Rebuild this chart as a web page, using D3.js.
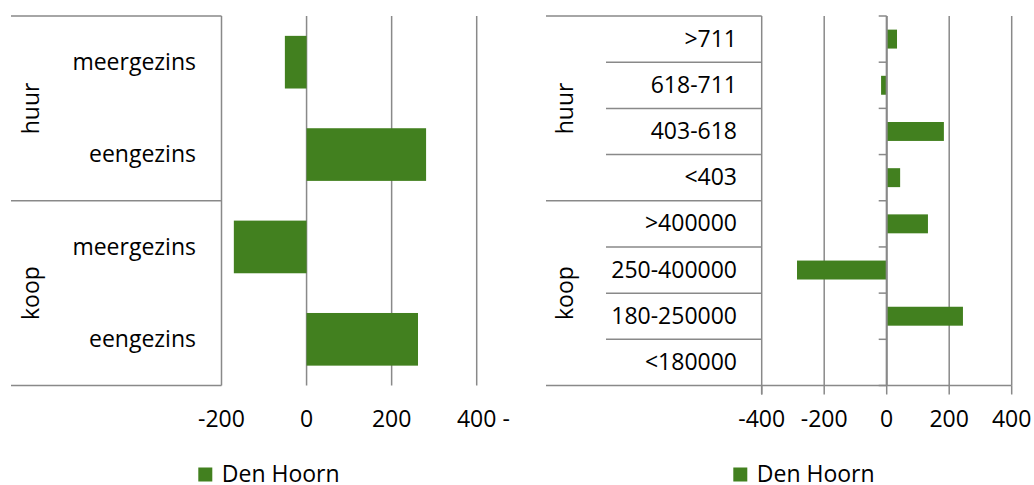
<!DOCTYPE html>
<html>
<head>
<meta charset="utf-8">
<script src="https://cdn.jsdelivr.net/npm/d3@7"></script>
<style>
html,body{margin:0;padding:0;background:#fff;}
svg{display:block;}
text{font-family:"Open Sans","Noto Sans",sans-serif;fill:#000;}
</style>
</head>
<body>
<svg id="c" width="1034" height="485"></svg>
<script>
// ---- data ----
const groups = ["huur", "koop"];
const leftCategories = ["meergezins", "eengezins", "meergezins", "eengezins"];
const leftGroupOf = ["huur", "huur", "koop", "koop"];
const leftValues = [-51, 281, -171, 262];
const leftTicks = [-200, 0, 200, 400];
const leftTickLabels = ["-200", "0", "200", "400 -"];

const rightCategories = [">711", "618-711", "403-618", "<403", ">400000", "250-400000", "180-250000", "<180000"];
const rightGroupOf = ["huur", "huur", "huur", "huur", "koop", "koop", "koop", "koop"];
const rightValues = [33, -18, 183, 43, 132, -287, 244, 0];
const rightTicks = [-400, -200, 0, 200, 400];
const rightTickLabels = ["-400", "-200", "0", "200", "400"];

const seriesName = "Den Hoorn";

// ---- styles ----
const FS = 23;
const GREEN = "#42801f";
const LINE = "#898989";

const svg = d3.select("#c");
const yTop = 16, yBottom = 385.5;

function panel(opts) {
  const g = svg.append("g");
  const x = d3.scaleLinear().domain(opts.domain).range(opts.xRange);
  const n = opts.cats.length;
  const y = d3.scaleBand().domain(d3.range(n)).range([yTop, yBottom])
    .paddingInner(opts.pad).paddingOuter(opts.pad / 2);
  const step = y.step();

  // gridlines
  g.selectAll("line.grid").data(opts.ticks.filter(t => t !== opts.domain[0]))
    .join("line").attr("class", "grid")
    .attr("x1", d => x(d)).attr("x2", d => x(d))
    .attr("y1", yTop).attr("y2", yBottom)
    .attr("stroke", LINE).attr("stroke-width", 1.5);

  // bars
  g.selectAll("rect.bar").data(opts.values)
    .join("rect").attr("class", "bar")
    .attr("x", d => x(Math.min(0, d)))
    .attr("width", d => Math.abs(x(d) - x(0)))
    .attr("y", (d, i) => y(i))
    .attr("height", y.bandwidth())
    .attr("fill", GREEN);

  // zero axis with category ticks (right panel)
  if (opts.zeroTicks) {
    g.append("line")
      .attr("x1", x(0)).attr("x2", x(0)).attr("y1", yTop).attr("y2", yBottom)
      .attr("stroke", LINE).attr("stroke-width", 2);
    g.selectAll("line.ztick").data(d3.range(n + 1))
      .join("line").attr("class", "ztick")
      .attr("x1", x(0) - 8).attr("x2", x(0))
      .attr("y1", i => yTop + i * step).attr("y2", i => yTop + i * step)
      .attr("stroke", LINE).attr("stroke-width", 1.5);
  }

  // table lines
  const left = x(opts.domain[0]);
  const gi = opts.groupOf;
  g.append("line").attr("x1", left).attr("x2", left).attr("y1", yTop)
    .attr("y2", opts.bottomAxis ? yBottom + 9 : yBottom)
    .attr("stroke", LINE).attr("stroke-width", 1.5);
  for (let i = 0; i <= n; i++) {
    const yy = yTop + i * step;
    const isGroup = i === 0 || i === n || gi[i] !== gi[i - 1];
    if (!isGroup && !opts.rowLines) continue;
    g.append("line")
      .attr("x1", isGroup ? opts.tableLeft : opts.rowLeft).attr("x2", left)
      .attr("y1", yy).attr("y2", yy)
      .attr("stroke", LINE).attr("stroke-width", 1.5);
  }

  // bottom axis (right panel)
  if (opts.bottomAxis) {
    g.append("line").attr("x1", left).attr("x2", x(opts.domain[1]))
      .attr("y1", yBottom).attr("y2", yBottom)
      .attr("stroke", LINE).attr("stroke-width", 1.5);
    g.selectAll("line.btick").data(opts.ticks)
      .join("line").attr("class", "btick")
      .attr("x1", d => x(d)).attr("x2", d => x(d))
      .attr("y1", yBottom).attr("y2", yBottom + 9)
      .attr("stroke", LINE).attr("stroke-width", 1.5);
  }

  // category labels
  g.selectAll("text.cat").data(opts.cats)
    .join("text").attr("class", "cat")
    .attr("x", opts.labelRight)
    .attr("y", (d, i) => y(i) + y.bandwidth() / 2)
    .attr("dy", "0.33em")
    .attr("text-anchor", "end")
    .attr("font-size", FS)
    .text(d => d);

  // group labels
  groups.forEach(gr => {
    const idx = gi.map((v, i) => v === gr ? i : -1).filter(i => i >= 0);
    const y0 = yTop + idx[0] * step, y1 = yTop + (idx[idx.length - 1] + 1) * step;
    const cy = (y0 + y1) / 2;
    g.append("text")
      .attr("transform", `translate(${opts.groupX},${cy}) rotate(-90)`)
      .attr("text-anchor", "middle").attr("dy", "0.33em")
      .attr("font-size", FS)
      .text(gr);
  });

  // tick labels
  const tl = g.selectAll("text.tick").data(opts.ticks)
    .join("text").attr("class", "tick")
    .attr("y", 427)
    .attr("font-size", FS)
    .text((d, i) => opts.tickLabels[i]);
  tl.each(function (d, i) {
    const lab = opts.tickLabels[i];
    const num = String(d);
    const el = d3.select(this);
    if (lab !== num) {
      const tmp = g.append("text").attr("font-size", FS).text(num);
      const w = tmp.node().getComputedTextLength();
      tmp.remove();
      el.attr("x", x(d) - w / 2).attr("text-anchor", "start");
    } else {
      el.attr("x", x(d)).attr("text-anchor", "middle");
    }
  });

  // legend
  const lg = g.append("g").attr("transform", `translate(${opts.legendX},467.5)`);
  lg.append("rect").attr("width", 14).attr("height", 14).attr("fill", GREEN);
  lg.append("text").attr("x", 23.5).attr("y", 14).attr("font-size", FS).text(seriesName);
}

panel({
  domain: [-200, 400], xRange: [221.5, 476.7],
  cats: leftCategories, groupOf: leftGroupOf, values: leftValues,
  ticks: leftTicks, tickLabels: leftTickLabels,
  pad: 0.43, tableLeft: 11, rowLeft: 11, rowLines: false,
  labelRight: 196, groupX: 31, zeroTicks: false, bottomAxis: false,
  legendX: 198.3
});

panel({
  domain: [-400, 400], xRange: [761.7, 1011.7],
  cats: rightCategories, groupOf: rightGroupOf, values: rightValues,
  ticks: rightTicks, tickLabels: rightTickLabels,
  pad: 0.59, tableLeft: 546, rowLeft: 606, rowLines: true,
  labelRight: 737, groupX: 565, zeroTicks: true, bottomAxis: true,
  legendX: 733.3
});
</script>
</body>
</html>
